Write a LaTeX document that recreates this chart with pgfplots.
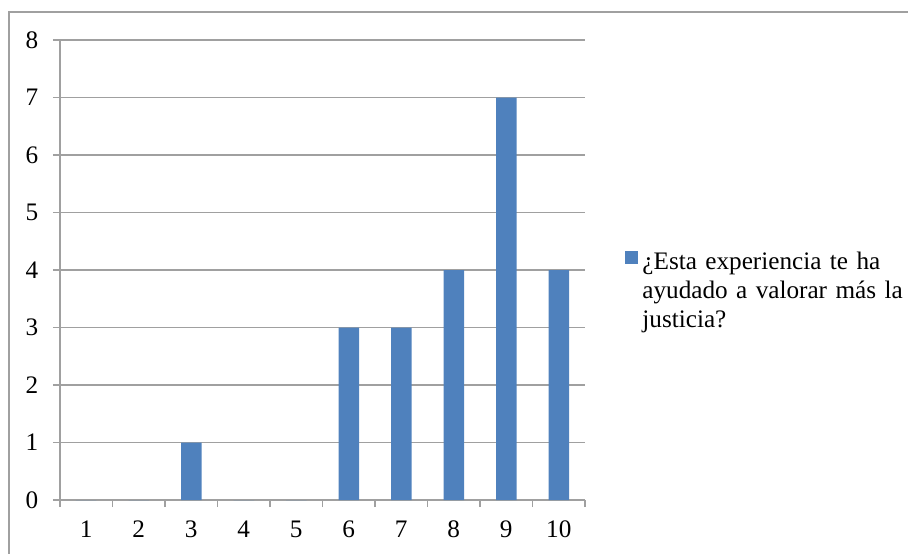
\documentclass[border=0pt]{standalone}
\usepackage{pgfplots}
\pgfplotsset{compat=1.18}
\usepackage{fontspec}
\setmainfont{Liberation Serif}
\definecolor{barblue}{HTML}{4F81BD}
\definecolor{gridgray}{HTML}{A0A0A0}
\begin{document}
\fontsize{12.6}{14.5}\selectfont
\begin{tikzpicture}
\useasboundingbox (-30pt,-26.5pt) rectangle (424pt,250pt);
\draw[gridgray, line width=0.8pt] (-25.5pt,-30pt) -- (-25.5pt,244pt) -- (430pt,244pt);
\begin{axis}[
  at={(0pt,0pt)}, anchor=south west,
  scale only axis, width=262.5pt, height=230pt,
  xmin=0.5, xmax=10.5, ymin=0, ymax=8,
  axis x line*=bottom, axis y line*=left,
  axis line style={gridgray, line width=0.6pt, -},
  xtick={0.5,1.5,...,10.5}, xticklabels={},
  extra x ticks={1,2,...,10},
  extra x tick labels={1,2,3,4,5,6,7,8,9,10},
  extra x tick style={major tick length=0pt, tick style={draw=none},
    xticklabel style={yshift=-6pt}},
  ytick={0,1,...,8},
  yticklabel style={xshift=-3pt},
  tick align=outside, major tick length=3.5pt,
  tick style={gridgray, line width=0.6pt},
  ymajorgrids, xmajorgrids=false,
  grid style={gridgray, line width=0.6pt},
  /pgf/number format/assume math mode=true,
  tick label style={font=\fontsize{12.6}{14.5}\selectfont, text=black},
  ybar, bar width=10.25pt,
  legend style={at={(1.0762,0.542)}, anchor=north west, draw=none, fill=none,
    inner sep=0pt, nodes={inner sep=0pt, text width=140pt, align=left, font=\fontsize{12.6}{14.5}\selectfont},
    /tikz/every odd column/.append style={column sep=2pt}},
  legend image code/.code={\fill[#1] (0pt,-0.5pt) rectangle (6.5pt,6pt);},
]
\addplot[fill=barblue, draw=none] coordinates {(1,0) (2,0) (3,1) (4,0) (5,0) (6,3) (7,3) (8,4) (9,7) (10,4)};
\addlegendentry{¿Esta experiencia te ha\\ayudado a valorar más la\\justicia?}
\end{axis}
\end{tikzpicture}
\end{document}
